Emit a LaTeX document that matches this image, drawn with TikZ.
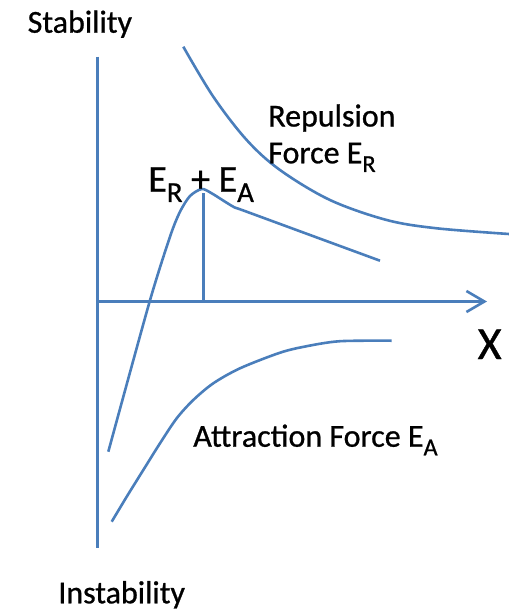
\documentclass[tikz,border=0pt]{standalone}
\usepackage{fontspec}
\usepackage{graphicx}
\setmainfont{Carlito}[RawFeature={embolden=0.8}]
\usetikzlibrary{arrows.meta}
\definecolor{curveblue}{RGB}{74,126,187}
\newcommand{\lowsub}[1]{\raisebox{-0.27em}{\scalebox{0.76}{#1}}}
\tikzset{
  curve/.style={draw=curveblue, line width=2.6pt},
  lbl/.style={anchor=base west, inner sep=0pt, outer sep=0pt, font=\fontsize{32}{36}\selectfont},
  biglbl/.style={anchor=base west, inner sep=0pt, outer sep=0pt, font=\fontsize{38}{42}\selectfont},
}
\begin{document}
\begin{tikzpicture}[x=1pt,y=-1pt]
\useasboundingbox (0,0) rectangle (509,611);
% axes
\coordinate (vtop) at (97.3,56.7);
\coordinate (vbot) at (97.3,548.3);
\coordinate (hleft) at (97.3,301.5);
\coordinate (hright) at (487,301.5);
\draw[curve] (vtop) -- (vbot);
\draw[curve, -{Straight Barb[length=18pt,width=21pt,line width=2.6pt]}] (hleft) -- (hright);
% peak marker
\coordinate (peaktop) at (203.3,193);
\coordinate (peakbot) at (203.3,301.5);
\draw[curve] (peaktop) -- (peakbot);
% repulsion curve
\draw[curve] plot[smooth, tension=0.55] coordinates {(183.3,46.7) (213.3,96.7) (246.7,140) (280,170) (330,200) (386.7,220) (436.7,228.3) (509,234)};
% combined curve
\draw[curve] plot[smooth, tension=0.45] coordinates {(108.3,451.7) (149.3,302.7) (170,236.7) (180,211.7) (190,196) (201.7,189) (211.7,193.3) (233.3,206.7) (246.7,211.7) (380,260.7)};
% attraction curve
\draw[curve] plot[smooth, tension=0.5] coordinates {(111.7,521.7) (126.7,496.7) (143.3,470) (160,443.3) (176.7,418.3) (193.3,400) (213.3,383.3) (240,368.3) (280,352.7) (306.7,346.2) (340,341.2) (391.7,340.7)};
% labels
\node[lbl] (stab) at (27.7,32.7) {Stability};
\node[lbl] (instab) at (58.3,603.3) {Instability};
\node[lbl] (rep1) at (268.3,126.5) {Repulsion};
\node[lbl] (rep2) at (268.3,163.3) {Force E\lowsub{R}};
\node[biglbl] (sum) at (148.3,191.7) {E\lowsub{R} + E\lowsub{A}};
\node[anchor=base west, inner sep=0pt, font=\fontsize{46}{50}\selectfont] (xlab) at (477.5,359) {X};
\node[lbl] (attr) at (193.3,446.7) {Attraction Force E\lowsub{A}};
\end{tikzpicture}
\end{document}
